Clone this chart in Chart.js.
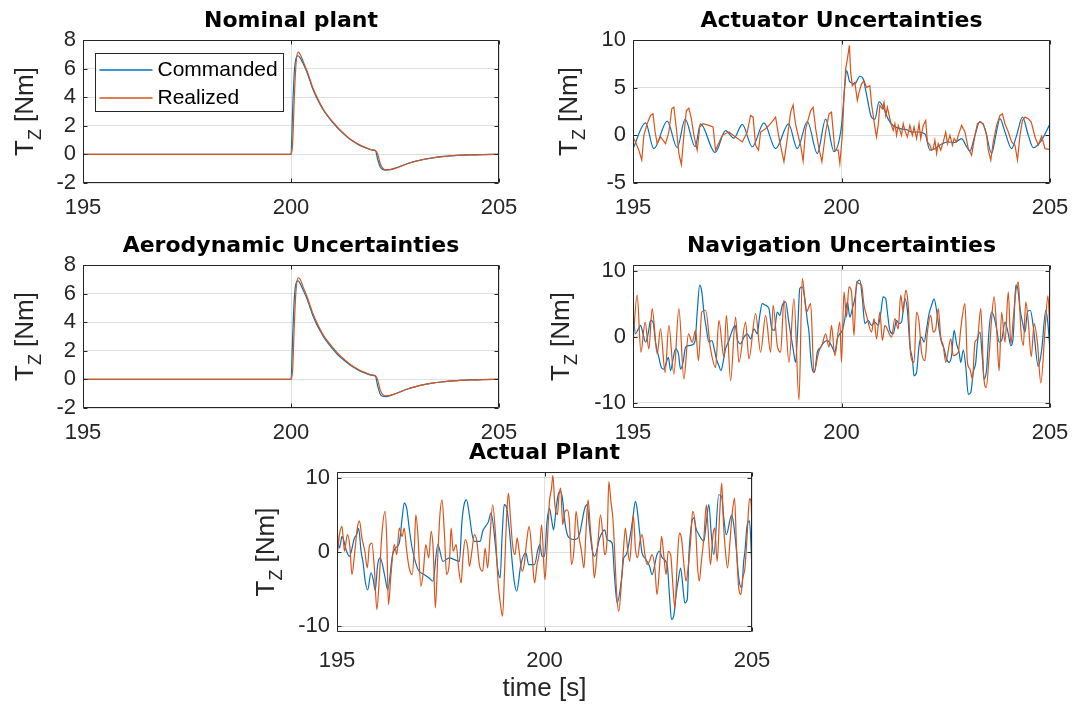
<!DOCTYPE html>
<html>
<head>
<meta charset="utf-8">
<script src="https://cdn.jsdelivr.net/npm/chart.js@4/dist/chart.umd.min.js"></script>
<style>
  html, body { margin: 0; padding: 0; background: #fff; width: 1074px; height: 708px; overflow: hidden; }
  canvas { position: absolute; }
</style>
</head>
<body>
<canvas id="nominal"></canvas>
<canvas id="actuator"></canvas>
<canvas id="aero"></canvas>
<canvas id="navigation"></canvas>
<canvas id="actual"></canvas>
<script>
// ---- data ----
const timeTicks = [195, 200, 205]
const nominalTicks = [-2, 0, 2, 4, 6, 8]
const actuatorTicks = [-5, 0, 5, 10]
const wideTicks = [-10, 0, 10]

const seriesNames = ["Commanded", "Realized"]
const titles = ["Nominal plant", "Actuator Uncertainties", "Aerodynamic Uncertainties", "Navigation Uncertainties", "Actual Plant"]
const yLabel = { main: "T", sub: "Z", unit: " [Nm]" }
const xLabel = "time [s]"

// nominal / aerodynamic: shared time stamps
const stepTime = [195, 200.0, 200.04, 200.08, 200.12, 200.17, 200.22, 200.3, 200.37, 200.45, 200.52, 200.61, 200.7, 200.8, 200.9, 201.01, 201.15, 201.3, 201.42, 201.6, 201.8, 201.95, 202.03, 202.08, 202.14, 202.2, 202.28, 202.4, 202.6, 202.8, 203.0, 203.2, 203.4, 203.6, 203.8, 204.0, 204.3, 204.6, 205]
const nominalCommanded = [0, 0, 3.2, 5.8, 6.7, 6.9, 6.75, 6.3, 5.85, 5.2, 4.6, 4.0, 3.5, 3.0, 2.6, 2.2, 1.75, 1.35, 1.05, 0.72, 0.45, 0.3, 0.25, -0.3, -0.85, -1.05, -1.1, -1.05, -0.86, -0.64, -0.47, -0.34, -0.24, -0.16, -0.11, -0.07, -0.03, -0.01, 0]
const nominalRealized = [0, 0, 0.8, 4.0, 6.3, 7.15, 7.0, 6.45, 5.95, 5.3, 4.7, 4.1, 3.55, 3.05, 2.65, 2.25, 1.8, 1.38, 1.08, 0.75, 0.47, 0.32, 0.27, 0.05, -0.6, -0.95, -1.08, -1.07, -0.88, -0.65, -0.48, -0.35, -0.25, -0.17, -0.11, -0.07, -0.03, -0.01, 0]
const aeroCommanded = [0, 0, 3.0, 5.7, 6.7, 6.9, 6.7, 6.2, 5.75, 5.1, 4.5, 3.9, 3.4, 2.9, 2.5, 2.1, 1.65, 1.28, 1.0, 0.68, 0.42, 0.28, 0.22, -0.4, -1.0, -1.18, -1.2, -1.12, -0.9, -0.67, -0.5, -0.36, -0.26, -0.18, -0.12, -0.08, -0.04, -0.01, 0]
const aeroRealized = [0, 0, 0.7, 3.8, 6.2, 7.1, 7.0, 6.4, 5.9, 5.25, 4.65, 4.05, 3.5, 3.0, 2.6, 2.2, 1.75, 1.35, 1.06, 0.73, 0.46, 0.31, 0.26, 0.0, -0.7, -1.05, -1.15, -1.1, -0.9, -0.67, -0.5, -0.36, -0.26, -0.18, -0.12, -0.08, -0.04, -0.01, 0]

// [time, torque]
const actuatorCommanded = [[195.00,-1.4],[195.30,1.3],[195.50,-1.4],[195.82,1.5],[196.06,-1.3],[196.25,1.7],[196.49,-1.2],[196.62,1.2],[196.97,-1.8],[197.22,0.5],[197.42,-0.3],[197.62,1.15],[197.86,-1.2],[198.14,1.3],[198.42,-1.4],[198.73,1.2],[198.94,-1.4],[199.18,1.45],[199.42,-1.9],[199.62,1.7],[199.82,-1.7],[200.00,1.0],[200.08,5.2],[200.12,6.8],[200.20,5.6],[200.32,5.4],[200.44,6.2],[200.52,5.9],[200.60,4.3],[200.72,1.9],[200.80,1.7],[200.90,3.5],[201.00,2.95],[201.12,1.7],[201.24,1.0],[201.40,0.7],[201.56,0.6],[201.68,0.35],[201.84,0.35],[202.00,0.15],[202.12,-1.55],[202.24,-1.4],[202.40,-0.9],[202.56,-0.7],[202.72,-0.75],[202.88,-0.35],[203.00,-1.2],[203.08,-1.65],[203.20,0],[203.32,1.45],[203.44,0.7],[203.60,-1.9],[203.70,0],[203.80,1.75],[203.92,0.35],[204.08,-1.4],[204.20,0],[204.34,1.9],[204.48,0],[204.60,-1.3],[204.80,-0.5],[205.00,1.2]]
const actuatorRealized = [[195.00,-0.17],[195.06,-0.69],[195.14,-1.56],[195.21,-2.6],[195.26,0],[195.34,1.22],[195.42,2.08],[195.48,2.26],[195.53,0.35],[195.58,-0.87],[195.66,-0.17],[195.78,-0.87],[195.86,0.35],[195.93,2.78],[195.98,2.95],[196.04,0.69],[196.10,-1.91],[196.16,-3.06],[196.22,0],[196.28,2.6],[196.34,2.85],[196.40,1.74],[196.46,0],[196.54,-1.56],[196.60,0.87],[196.68,1.22],[196.82,1.04],[196.92,0.87],[196.98,-1.56],[197.14,0],[197.30,0.35],[197.46,-0.17],[197.62,-0.69],[197.74,0.35],[197.82,2.08],[197.88,1.91],[197.94,-1.04],[198.01,-1.56],[198.06,0.35],[198.18,0.69],[198.30,1.22],[198.42,1.91],[198.49,0],[198.57,-1.74],[198.62,-2.78],[198.70,-0.35],[198.78,2.43],[198.84,3.19],[198.89,1.39],[198.94,0.35],[199.02,-1.04],[199.08,-2.71],[199.14,0.69],[199.26,2.6],[199.32,2.95],[199.38,0.69],[199.46,-1.39],[199.53,-2.78],[199.62,0.35],[199.70,2.26],[199.76,2.43],[199.84,-1.56],[199.92,-1.56],[199.96,-2.95],[200.02,0],[200.06,4.17],[200.10,6.94],[200.14,7.99],[200.19,9.44],[200.22,6.6],[200.26,5.21],[200.32,5.56],[200.38,3.65],[200.42,4.51],[200.48,5.38],[200.54,5.73],[200.60,5.03],[200.68,5.21],[200.72,3.3],[200.76,2.08],[200.80,0.87],[200.84,-0.17],[200.88,1.04],[200.92,3.13],[200.98,2.78],[201.02,3.47],[201.06,2.08],[201.10,2.95],[201.16,1.74],[201.20,1.04],[201.24,0.52],[201.28,1.22],[201.32,0],[201.36,1.04],[201.40,0.52],[201.44,0],[201.48,1.22],[201.52,0.52],[201.58,-0.17],[201.64,1.04],[201.70,0],[201.74,0.87],[201.80,-0.35],[201.86,1.22],[201.90,-0.35],[201.96,1.04],[202.02,1.56],[202.06,-0.69],[202.12,-1.04],[202.16,-1.56],[202.20,-1.39],[202.24,-0.52],[202.28,-1.91],[202.32,-0.87],[202.38,-1.56],[202.44,-0.69],[202.50,0.35],[202.54,-0.87],[202.60,0],[202.66,-1.04],[202.70,-0.35],[202.76,-0.69],[202.80,0],[202.88,1.04],[202.96,0.35],[203.04,-1.39],[203.12,-2.08],[203.20,0],[203.26,1.22],[203.32,1.39],[203.40,1.22],[203.48,0],[203.52,-1.56],[203.58,-2.6],[203.64,-0.69],[203.72,1.04],[203.80,2.08],[203.86,2.26],[203.92,1.22],[204.00,0.35],[204.08,-0.69],[204.16,-1.04],[204.22,-2.6],[204.28,0],[204.34,1.56],[204.40,1.91],[204.48,1.74],[204.55,1.4],[204.65,-0.3],[204.72,-1.0],[204.80,-0.1],[204.88,-1.4],[205.00,-1.5]]

const navCommanded = [[195.00,4.03],[195.06,0.46],[195.13,1.22],[195.18,1.73],[195.24,0.46],[195.30,-0.82],[195.37,0.71],[195.42,2.5],[195.48,2.24],[195.54,-0.82],[195.62,-3.11],[195.68,-4.64],[195.74,-4.89],[195.80,-3.87],[195.85,-3.11],[195.90,-5.15],[195.96,-3.36],[196.02,-1.83],[196.09,-2.6],[196.14,-4.89],[196.20,-3.87],[196.26,-1.58],[196.34,-1.33],[196.42,-1.22],[196.49,-0.56],[196.54,3.77],[196.60,7.85],[196.65,6.83],[196.70,3.77],[196.76,1.22],[196.82,-0.82],[196.89,-0.56],[196.94,-1.58],[197.00,-3.36],[197.06,-4.38],[197.11,-5.15],[197.16,-3.87],[197.22,-1.83],[197.30,-0.56],[197.38,0.97],[197.45,1.73],[197.50,-0.31],[197.58,-1.07],[197.66,-0.05],[197.74,0.46],[197.82,-0.31],[197.90,1.22],[197.98,0.46],[198.04,3.26],[198.10,5.05],[198.18,4.79],[198.26,4.28],[198.33,1.22],[198.39,0.97],[198.46,3.77],[198.52,3.26],[198.58,4.79],[198.66,5.3],[198.73,2.5],[198.78,0.46],[198.84,-1.83],[198.90,-3.87],[198.95,1.22],[199.00,7.34],[199.06,7.59],[199.13,5.3],[199.18,2.5],[199.22,0.71],[199.26,-2.85],[199.30,-4.89],[199.35,-5.4],[199.42,-2.34],[199.50,-1.58],[199.58,-0.82],[199.66,-0.56],[199.76,-1.33],[199.84,-2.34],[199.90,-0.31],[199.96,0.46],[200.02,0.97],[200.08,2.75],[200.14,5.3],[200.20,3.0],[200.26,4.28],[200.32,5.81],[200.38,8.36],[200.44,8.61],[200.50,5.81],[200.56,1.99],[200.64,2.5],[200.72,1.73],[200.80,2.24],[200.88,1.73],[200.94,3.52],[201.00,6.07],[201.06,5.81],[201.10,3.77],[201.16,0.97],[201.24,0.46],[201.32,2.5],[201.38,1.99],[201.44,2.24],[201.52,5.81],[201.58,4.03],[201.64,-1.33],[201.70,-3.36],[201.74,-5.91],[201.80,-5.4],[201.86,-1.33],[201.92,-0.05],[201.98,-0.82],[202.04,1.22],[202.10,3.52],[202.16,4.79],[202.22,5.71],[202.28,4.03],[202.34,1.22],[202.40,-0.82],[202.46,-1.83],[202.52,-3.36],[202.58,-3.87],[202.64,-2.85],[202.70,0.97],[202.76,-1.07],[202.82,-2.34],[202.86,-3.87],[202.92,-2.0],[202.98,-4.5],[203.04,-8.72],[203.10,-8.46],[203.16,-5.4],[203.22,-3.87],[203.26,-0.82],[203.32,0.71],[203.38,-3.36],[203.42,-6.42],[203.48,-4.89],[203.54,1.22],[203.60,3.77],[203.66,3.0],[203.72,1.22],[203.78,-0.82],[203.84,-0.56],[203.92,2.24],[204.00,0.46],[204.06,-1.33],[204.12,0.2],[204.18,7.85],[204.22,7.59],[204.28,4.28],[204.34,2.24],[204.40,0.71],[204.46,3.77],[204.53,4.03],[204.60,1.5],[204.72,-4.5],[204.80,-2.0],[204.90,4.0],[204.95,2.0],[205.00,-2.2]]
const navRealized = [[195.00,-0.82],[195.10,6.32],[195.19,-2.34],[195.29,2.24],[195.38,-1.83],[195.46,4.28],[195.58,-2.6],[195.66,1.22],[195.77,-5.4],[195.86,1.73],[195.98,-5.66],[196.10,4.28],[196.22,-6.42],[196.33,0.46],[196.42,-0.82],[196.50,0.97],[196.57,-3.62],[196.65,3.77],[196.74,4.03],[196.86,-1.83],[196.98,-4.64],[197.06,2.5],[197.18,-3.11],[197.24,3.26],[197.34,-6.68],[197.46,3.0],[197.54,-3.87],[197.70,2.24],[197.78,-3.36],[197.94,3.52],[198.06,-2.34],[198.18,3.26],[198.30,-2.34],[198.36,4.79],[198.46,-1.33],[198.54,-2.34],[198.62,5.56],[198.74,-3.87],[198.86,5.81],[198.98,-9.58],[199.06,8.87],[199.16,3.77],[199.26,5.05],[199.34,-5.4],[199.45,-2.34],[199.54,-1.07],[199.62,0.46],[199.70,-1.58],[199.76,1.73],[199.84,-2.85],[199.96,2.24],[200.00,-3.87],[200.06,6.83],[200.12,3.0],[200.18,7.59],[200.24,6.83],[200.30,0.2],[200.36,8.36],[200.42,8.1],[200.48,7.85],[200.54,4.79],[200.60,3.26],[200.72,0.71],[200.78,2.75],[200.84,-0.3],[200.92,3.77],[200.98,-0.56],[201.04,1.73],[201.20,-0.05],[201.28,2.75],[201.36,1.22],[201.42,6.32],[201.48,3.77],[201.54,7.08],[201.60,4.79],[201.66,-2.85],[201.74,-3.87],[201.80,3.77],[201.86,2.24],[201.92,-2.34],[202.00,-3.62],[202.06,0.71],[202.14,3.26],[202.20,0.71],[202.26,1.22],[202.32,4.28],[202.38,-0.05],[202.44,-1.33],[202.50,-3.87],[202.62,-0.3],[202.68,-2.85],[202.80,-2.34],[202.86,1.22],[202.96,5.05],[203.02,-3.87],[203.08,-4.89],[203.14,-6.42],[203.20,-0.82],[203.26,-0.3],[203.34,4.28],[203.41,-5.91],[203.47,-7.7],[203.54,-2.85],[203.60,2.75],[203.66,6.07],[203.72,1.22],[203.78,-5.15],[203.84,3.77],[203.92,-0.82],[204.00,6.83],[204.06,-1.07],[204.12,2.75],[204.18,6.83],[204.24,8.36],[204.30,1.22],[204.36,-1.33],[204.42,5.3],[204.48,2.24],[204.55,-3.0],[204.62,2.0],[204.70,-1.0],[204.78,-7.0],[204.88,1.0],[204.95,6.2],[205.00,0.5]]

const plantCommanded = [[195.00,2.79],[195.06,0.54],[195.12,2.1],[195.23,0.1],[195.30,-0.6],[195.42,1.9],[195.47,2.3],[195.52,3.2],[195.58,0.1],[195.63,-1.5],[195.68,-3.95],[195.74,-5.1],[195.82,-2.8],[195.88,-3.95],[195.92,-5.2],[195.98,-1.7],[196.04,-0.8],[196.16,-3.5],[196.22,-5.1],[196.34,-0.36],[196.41,0.54],[196.50,1.2],[196.57,4.6],[196.62,6.6],[196.68,5.9],[196.74,3.2],[196.81,0.54],[196.92,-1.9],[196.98,-2.6],[197.10,-3.05],[197.22,-3.5],[197.31,-3.95],[197.43,1.0],[197.55,-1.26],[197.71,-0.8],[197.95,-1.26],[198.01,4.1],[198.07,6.6],[198.12,7.05],[198.19,5.0],[198.25,2.56],[198.31,1.44],[198.45,1.44],[198.51,2.8],[198.65,4.1],[198.71,5.25],[198.82,0.76],[198.87,-2.16],[198.93,-3.5],[198.98,2.3],[199.03,6.4],[199.09,5.9],[199.15,3.2],[199.22,-1.26],[199.27,-3.95],[199.33,-5.3],[199.43,-1.7],[199.55,-0.13],[199.62,-1.7],[199.76,-1.7],[199.84,0.3],[199.89,1.0],[199.94,-0.58],[200.00,-0.58],[200.06,4.1],[200.12,5.9],[200.17,4.36],[200.22,3.0],[200.28,5.9],[200.33,7.73],[200.38,8.2],[200.43,7.3],[200.49,4.1],[200.55,2.34],[200.60,1.9],[200.73,1.66],[200.84,2.34],[200.97,5.9],[201.03,6.4],[201.08,3.46],[201.15,0.3],[201.21,-0.58],[201.33,1.9],[201.45,3.0],[201.51,1.66],[201.63,1.2],[201.69,-3.5],[201.75,-6.87],[201.86,-3.5],[201.91,-0.8],[201.97,-0.36],[202.07,2.34],[202.13,4.6],[202.19,6.83],[202.23,5.9],[202.29,2.8],[202.35,-0.13],[202.42,-0.8],[202.53,-1.9],[202.59,-3.05],[202.71,-0.36],[202.77,0.1],[202.84,-0.8],[202.96,-1.9],[203.01,-5.75],[203.06,-9.1],[203.12,-8.45],[203.17,-5.75],[203.22,-3.95],[203.28,-2.16],[203.33,-4.4],[203.38,-6.87],[203.44,-6.4],[203.48,-0.36],[203.54,3.68],[203.60,4.6],[203.65,3.2],[203.72,2.34],[203.84,1.44],[203.90,4.1],[203.96,6.4],[204.02,2.34],[204.08,-0.36],[204.20,7.73],[204.27,7.5],[204.32,4.6],[204.38,2.34],[204.51,5.0],[204.56,3.68],[204.62,0.54],[204.68,-3.5],[204.75,-4.85],[204.80,-1.26],[204.83,0.1],[204.88,3.5],[204.94,4.2],[205.00,-2.4]]
const plantRealized = [[195.00,-0.8],[195.06,2.34],[195.12,3.46],[195.18,0.1],[195.25,2.34],[195.31,0.76],[195.36,-3.05],[195.43,0.1],[195.49,3.23],[195.54,4.22],[195.60,1.9],[195.67,0.1],[195.73,-2.16],[195.78,0.76],[195.84,1.2],[195.90,-2.16],[195.96,-7.77],[196.02,-3.5],[196.08,2.34],[196.16,5.48],[196.20,1.44],[196.24,-7.1],[196.30,-3.05],[196.38,1.0],[196.44,-0.36],[196.50,3.23],[196.57,2.1],[196.62,3.23],[196.68,0.1],[196.74,-2.16],[196.81,-3.05],[196.86,0.1],[196.90,5.03],[196.95,2.34],[197.02,-4.63],[197.08,-2.6],[197.14,1.0],[197.21,-0.8],[197.27,2.8],[197.32,0.1],[197.37,-7.55],[197.43,-0.36],[197.48,5.03],[197.53,7.05],[197.59,2.34],[197.64,-3.05],[197.71,-1.26],[197.75,3.23],[197.80,0.1],[197.87,1.0],[197.93,-2.16],[197.99,-4.18],[198.04,-0.36],[198.09,1.66],[198.15,0.54],[198.19,-1.93],[198.25,0.1],[198.31,2.34],[198.37,1.44],[198.43,-1.7],[198.51,-2.6],[198.57,0.54],[198.63,-2.16],[198.69,2.34],[198.75,6.38],[198.82,2.34],[198.88,-3.95],[198.93,-6.65],[198.99,-8.67],[199.04,-2.16],[199.09,5.03],[199.13,7.95],[199.18,4.58],[199.23,1.0],[199.29,-0.36],[199.34,1.9],[199.39,0.1],[199.46,-2.6],[199.51,-1.7],[199.57,1.44],[199.63,3.46],[199.70,-0.36],[199.76,-4.18],[199.82,-1.7],[199.88,0.1],[199.93,3.68],[200.01,-3.73],[200.06,0.54],[200.12,6.83],[200.17,8.63],[200.20,10.33],[200.25,6.38],[200.31,5.03],[200.35,7.73],[200.39,8.63],[200.44,3.68],[200.49,5.48],[200.55,5.7],[200.60,4.13],[200.65,-1.7],[200.71,0.31],[200.76,5.48],[200.83,2.1],[200.89,0.1],[200.95,-2.16],[201.00,2.8],[201.05,7.05],[201.11,2.8],[201.15,0.54],[201.20,-3.5],[201.25,-1.26],[201.29,1.44],[201.35,5.03],[201.41,1.9],[201.45,-0.36],[201.51,1.9],[201.55,9.52],[201.60,6.83],[201.65,4.36],[201.69,0.1],[201.74,-5.75],[201.79,-8.0],[201.85,-4.4],[201.90,0.1],[201.95,3.23],[202.00,0.54],[202.05,-1.26],[202.10,1.9],[202.14,5.03],[202.19,0.54],[202.24,-0.8],[202.30,1.44],[202.35,2.34],[202.42,-0.36],[202.47,-1.7],[202.53,-1.26],[202.59,-0.36],[202.66,-2.16],[202.71,-5.75],[202.77,-2.16],[202.82,2.1],[202.88,-0.8],[202.93,-3.05],[202.98,0.1],[203.04,-0.36],[203.09,-4.18],[203.14,-7.55],[203.20,-1.26],[203.25,2.56],[203.30,1.9],[203.36,-1.7],[203.41,-3.95],[203.46,-2.16],[203.52,1.44],[203.57,5.48],[203.64,3.23],[203.69,-2.16],[203.73,-3.95],[203.78,-1.26],[203.84,1.9],[203.90,6.38],[203.94,3.23],[204.00,-1.7],[204.06,2.34],[204.10,3.23],[204.16,-1.26],[204.22,5.03],[204.27,9.3],[204.31,4.13],[204.36,0.1],[204.41,-2.16],[204.47,1.44],[204.52,5.03],[204.58,7.28],[204.63,0.1],[204.68,-4.85],[204.73,-5.75],[204.78,-3.5],[204.83,-2.16],[204.88,2.0],[204.94,7.2],[204.97,7.0],[205.00,3.5]]

// ---- styling ----
const INK = "#262626"
const GRID = "rgba(38,38,38,0.15)"
const BLUE = "#0072BD"
const ORANGE = "#D95319"
const SANS = '"Liberation Sans", Arial, Helvetica, sans-serif'
const TITLE_HEIGHT = 36

const zip = (t, v) => t.map((x, i) => ({ x, y: v[i] }))
const pairs = list => list.map(([x, y]) => ({ x, y }))

const framePlugin = {
    id: "frame",
    afterDatasetsDraw(chart) {
        const { ctx, chartArea: a, scales: { x, y } } = chart
        const L = Math.round(a.left) + 0.5, R = Math.round(a.right) - 0.5
        const T = Math.round(a.top) + 0.5, B = Math.round(a.bottom) - 0.5
        ctx.save()
        ctx.strokeStyle = INK
        ctx.lineWidth = 1
        ctx.beginPath()
        ctx.rect(L, T, R - L, B - T)
        x.ticks.forEach(t => {
            const p = Math.round(x.getPixelForValue(t.value)) + 0.5
            ctx.moveTo(p, B); ctx.lineTo(p, B - 4)
            ctx.moveTo(p, T); ctx.lineTo(p, T + 4)
        })
        y.ticks.forEach(t => {
            const p = Math.round(y.getPixelForValue(t.value)) + 0.5
            ctx.moveTo(L, p); ctx.lineTo(L + 4, p)
            ctx.moveTo(R, p); ctx.lineTo(R - 4, p)
        })
        ctx.stroke()
        ctx.restore()
    }
}

const axisText = {
    id: "axisText",
    afterDraw(chart, args, opts) {
        const { ctx, chartArea: a } = chart
        const main = "26px " + SANS, sub = "18px " + SANS
        ctx.save()
        ctx.fillStyle = INK
        ctx.textBaseline = "alphabetic"
        ctx.font = main
        const wT = ctx.measureText(yLabel.main).width
        const wU = ctx.measureText(yLabel.unit).width
        ctx.font = sub
        const wZ = ctx.measureText(yLabel.sub).width
        ctx.translate(Math.round(a.left) - opts.gap, (a.top + a.bottom) / 2)
        ctx.rotate(-Math.PI / 2)
        let pos = -(wT + wZ + wU) / 2
        ctx.font = main; ctx.fillText(yLabel.main, pos, 0); pos += wT
        ctx.font = sub; ctx.fillText(yLabel.sub, pos, 8); pos += wZ
        ctx.font = main; ctx.fillText(yLabel.unit, pos, 0)
        ctx.restore()

        if (opts.xTitle) {
            ctx.save()
            ctx.fillStyle = INK
            ctx.font = main
            ctx.textAlign = "center"
            ctx.textBaseline = "middle"
            ctx.fillText(opts.xTitle, (a.left + a.right) / 2, a.bottom + 57)
            ctx.restore()
        }
    }
}

const boxLegend = {
    id: "boxLegend",
    afterDraw(chart, args, opts) {
        if (!opts.show) return
        const { ctx, chartArea: a } = chart
        const bx = Math.round(a.left) + 12.5, by = Math.round(a.top) + 13.5
        ctx.save()
        ctx.fillStyle = "#fff"
        ctx.fillRect(bx, by, 188, 58)
        ctx.strokeStyle = INK
        ctx.lineWidth = 1
        ctx.strokeRect(bx, by, 188, 58)
        ctx.font = "21px " + SANS
        ctx.textBaseline = "middle"
        chart.data.datasets.forEach((ds, i) => {
            const yy = Math.round(by + 16 + i * 28)
            ctx.strokeStyle = ds.borderColor
            ctx.lineWidth = 1.6
            ctx.beginPath()
            ctx.moveTo(bx + 4, yy)
            ctx.lineTo(bx + 57, yy)
            ctx.stroke()
            ctx.fillStyle = "#000"
            ctx.fillText(ds.label, bx + 62, yy)
        })
        ctx.restore()
    }
}

function series(cmd, real, smoothReal) {
    return [
        { label: seriesNames[0], data: cmd, borderColor: BLUE, borderWidth: 1.2, pointRadius: 0, cubicInterpolationMode: "monotone", order: 1 },
        { label: seriesNames[1], data: real, borderColor: ORANGE, borderWidth: 1.2, pointRadius: 0, order: 0,
          cubicInterpolationMode: smoothReal ? "monotone" : "default", tension: 0 }
    ]
}

function buildPlot(p) {
    const canvas = document.getElementById(p.id)
    const rightPad = 22
    const width = p.yW + p.w + rightPad
    const height = TITLE_HEIGHT + p.h + p.xH
    canvas.width = width
    canvas.height = height
    canvas.style.left = (p.left - p.yW) + "px"
    canvas.style.top = (p.top - TITLE_HEIGHT) + "px"

    const tickFont = { family: SANS, size: 22 }

    return new Chart(canvas, {
        type: "line",
        data: { datasets: p.datasets },
        options: {
            responsive: false,
            animation: false,
            devicePixelRatio: 1,
            layout: { padding: { top: 0, right: rightPad, bottom: 0, left: 0 } },
            plugins: {
                legend: { display: false },
                tooltip: { enabled: false },
                title: {
                    display: true,
                    fullSize: false,
                    text: p.title,
                    color: "#000",
                    font: { family: '"DejaVu Sans", sans-serif', size: 22, weight: "bold", lineHeight: "26px" },
                    padding: { top: 4, bottom: 6 }
                },
                axisText: { gap: p.gap, xTitle: p.xTitle },
                boxLegend: { show: !!p.legend }
            },
            scales: {
                x: {
                    type: "linear",
                    min: timeTicks[0],
                    max: timeTicks[timeTicks.length - 1],
                    afterBuildTicks: s => { s.ticks = timeTicks.map(v => ({ value: v })) },
                    afterFit: s => { s.height = p.xH; s.paddingLeft = 0; s.paddingRight = 0 },
                    ticks: { font: tickFont, color: INK, padding: p.tickPad, maxRotation: 0, autoSkip: false },
                    grid: { color: GRID, drawTicks: false },
                    border: { display: false }
                },
                y: {
                    type: "linear",
                    min: p.yMin,
                    max: p.yMax,
                    afterBuildTicks: s => { s.ticks = p.yTicks.map(v => ({ value: v })) },
                    afterFit: s => { s.width = p.yW; s.paddingTop = 0; s.paddingBottom = 0 },
                    ticks: { font: tickFont, color: INK, padding: 7, autoSkip: false },
                    grid: { color: GRID, drawTicks: false },
                    border: { display: false }
                }
            }
        },
        plugins: [framePlugin, axisText, boxLegend]
    })
}

const plots = [
    { id: "nominal", title: titles[0], left: 83, top: 40, w: 416, h: 143, yW: 82, xH: 45, gap: 50, tickPad: 12,
      yMin: -2, yMax: 8, yTicks: nominalTicks, legend: true,
      datasets: series(zip(stepTime, nominalCommanded), zip(stepTime, nominalRealized), true) },
    { id: "actuator", title: titles[1], left: 633, top: 40, w: 417, h: 143, yW: 88, xH: 45, gap: 56, tickPad: 12,
      yMin: -5, yMax: 10, yTicks: actuatorTicks,
      datasets: series(pairs(actuatorCommanded), pairs(actuatorRealized), false) },
    { id: "aero", title: titles[2], left: 83, top: 265, w: 416, h: 143, yW: 82, xH: 45, gap: 50, tickPad: 12,
      yMin: -2, yMax: 8, yTicks: nominalTicks,
      datasets: series(zip(stepTime, aeroCommanded), zip(stepTime, aeroRealized), true) },
    { id: "navigation", title: titles[3], left: 633, top: 265, w: 417, h: 143, yW: 88, xH: 45, gap: 64, tickPad: 12,
      yMin: -10.8, yMax: 10.9, yTicks: wideTicks,
      datasets: series(pairs(navCommanded), pairs(navRealized), true) },
    { id: "actual", title: titles[4], left: 337, top: 472, w: 415, h: 160, yW: 88, xH: 74, gap: 63, tickPad: 16,
      yMin: -10.8, yMax: 10.8, yTicks: wideTicks, xTitle: xLabel,
      datasets: series(pairs(plantCommanded), pairs(plantRealized), true) }
]

const charts = plots.map(buildPlot)
</script>
</body>
</html>
